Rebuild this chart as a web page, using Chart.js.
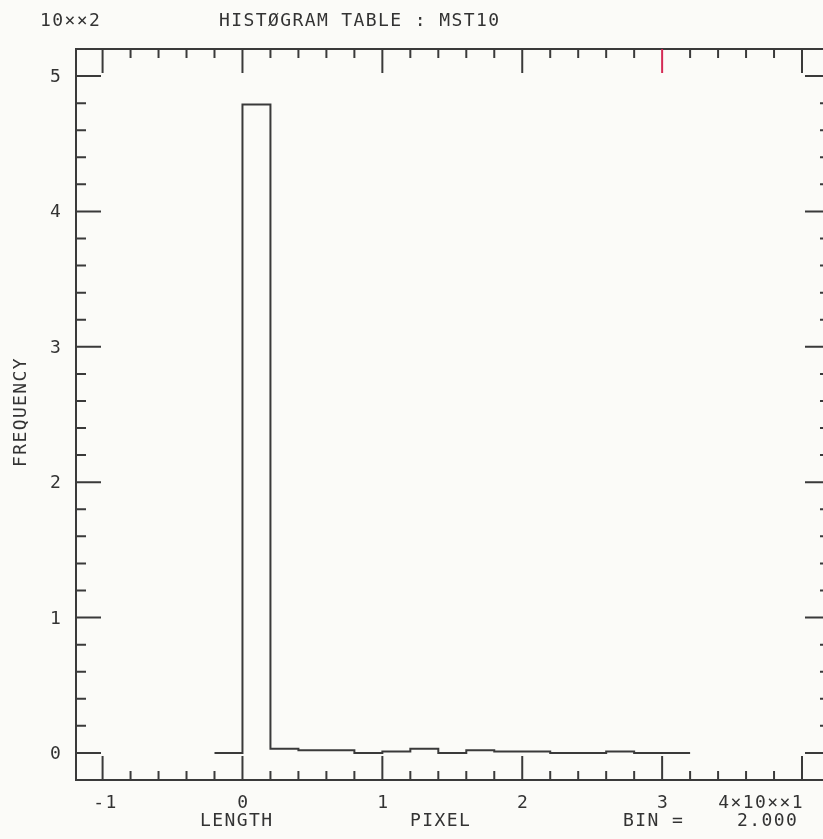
<!DOCTYPE html>
<html>
<head>
<meta charset="utf-8">
<script src="https://cdn.jsdelivr.net/npm/chart.js@4"></script>
<style>
html,body{margin:0;padding:0;background:#fbfbf8;overflow:hidden}
canvas{display:block}
</style>
</head>
<body>
<canvas id="c" width="823" height="839"></canvas>
<script>
// ---- data (pixel length bins, bin width 2.000; frequency counts) ----
const binEdges    = [-2, 0, 2, 4, 6, 8, 10, 12, 14, 16, 18, 20, 22, 24, 26, 28, 30, 32];
const frequencies = [0, 479, 3, 2, 2, 0, 1, 3, 0, 2, 1, 1, 0, 0, 1, 0, 0];

const xTickValues = [-10, 0, 10, 20, 30, 40];
const xTickLabels = ['-1', '0', '1', '2', '3', '4×10××1'];
const yTickValues = [0, 100, 200, 300, 400, 500];
const yTickLabels = ['0', '1', '2', '3', '4', '5'];

const titleText    = 'HISTØGRAM TABLE : MST10';
const yScaleText   = '10××2';
const yAxisTitle   = 'FREQUENCY';
const xAxisTitleA  = 'LENGTH';
const xAxisTitleB  = 'PIXEL';
const binLabel     = 'BIN =';
const binValue     = '2.000';

// ---- build step outline points ----
const points = binEdges.slice(0, -1).map((e, i) => ({x: e, y: frequencies[i]}));
points.push({x: binEdges[binEdges.length - 1], y: frequencies[frequencies.length - 1]});

const INK = '#3a3a3a';
const FONT = '18px "DejaVu Sans Mono", "Liberation Mono", monospace';

function txt(ctx, s, x, y, align) {
  ctx.textAlign = align || 'center';
  ctx.fillText(s, x, y);
}

const plotter = {
  id: 'plotter',
  beforeDraw(chart) {
    const ctx = chart.ctx;
    ctx.save();
    ctx.fillStyle = '#fbfbf8';
    ctx.fillRect(0, 0, chart.width, chart.height);
    ctx.restore();
  },
  afterDraw(chart) {
    const ctx = chart.ctx, xs = chart.scales.x, ys = chart.scales.y;
    const X = v => xs.getPixelForValue(v), Y = v => ys.getPixelForValue(v);
    const L = chart.chartArea.left, R = X(42), T = Y(520), B = Y(-20);
    ctx.save();
    ctx.strokeStyle = INK;
    ctx.lineWidth = 2;
    ctx.lineCap = 'butt';
    // frame
    ctx.strokeRect(L, T, R - L, B - T);
    // x ticks (inward, bottom and top)
    for (let v = -10; v <= 40; v += 2) {
      const major = v % 10 === 0;
      const len = major ? 24 : 9;
      const px = X(v);
      ctx.beginPath();
      ctx.moveTo(px, B); ctx.lineTo(px, B - len);
      ctx.stroke();
      ctx.beginPath();
      ctx.strokeStyle = (v === 30) ? '#d42a55' : INK;
      ctx.moveTo(px, T); ctx.lineTo(px, T + len);
      ctx.stroke();
      ctx.strokeStyle = INK;
    }
    // y ticks (inward, left and right)
    for (let v = 0; v <= 500; v += 20) {
      const major = v % 100 === 0;
      const len = major ? 25 : 10;
      const py = Y(v);
      ctx.beginPath();
      ctx.moveTo(L, py); ctx.lineTo(L + len, py);
      ctx.moveTo(R, py); ctx.lineTo(R - len, py);
      ctx.stroke();
    }
    // texts
    ctx.fillStyle = '#333';
    ctx.font = FONT;
    try { ctx.letterSpacing = '1.4px'; } catch (e) {}
    ctx.textBaseline = 'alphabetic';
    txt(ctx, yScaleText, 40, 26, 'left');
    txt(ctx, titleText, 219, 26, 'left');
    yTickValues.forEach((v, i) => txt(ctx, yTickLabels[i], 56, Y(v) + 6, 'center'));
    xTickValues.forEach((v, i) => {
      if (i === xTickValues.length - 1) txt(ctx, xTickLabels[i], X(v) + 2, 808, 'right');
      else if (xTickLabels[i].startsWith('-')) txt(ctx, xTickLabels[i], X(v) + 3, 808, 'center');
      else txt(ctx, xTickLabels[i], X(v) + 1, 808, 'center');
    });
    txt(ctx, xAxisTitleA, 200, 826, 'left');
    txt(ctx, xAxisTitleB, 410, 826, 'left');
    txt(ctx, binLabel, 623, 826, 'left');
    txt(ctx, binValue, 737, 826, 'left');
    ctx.save();
    ctx.translate(26, 412);
    ctx.rotate(-Math.PI / 2);
    txt(ctx, yAxisTitle, 0, 0, 'center');
    ctx.restore();
    ctx.restore();
  }
};

new Chart(document.getElementById('c'), {
  type: 'line',
  data: {
    datasets: [{
      data: points,
      stepped: true,
      borderColor: INK,
      borderWidth: 2,
      pointRadius: 0,
      fill: false,
      tension: 0
    }]
  },
  options: {
    responsive: false,
    animation: false,
    devicePixelRatio: 1,
    layout: {padding: {left: 76, right: 0, top: 49, bottom: 59}},
    plugins: {legend: {display: false}, tooltip: {enabled: false}, title: {display: false}},
    scales: {
      x: {type: 'linear', min: -11.9, max: 41.5, display: false},
      y: {type: 'linear', min: -20, max: 520, display: false}
    }
  },
  plugins: [plotter]
});
</script>
</body>
</html>
